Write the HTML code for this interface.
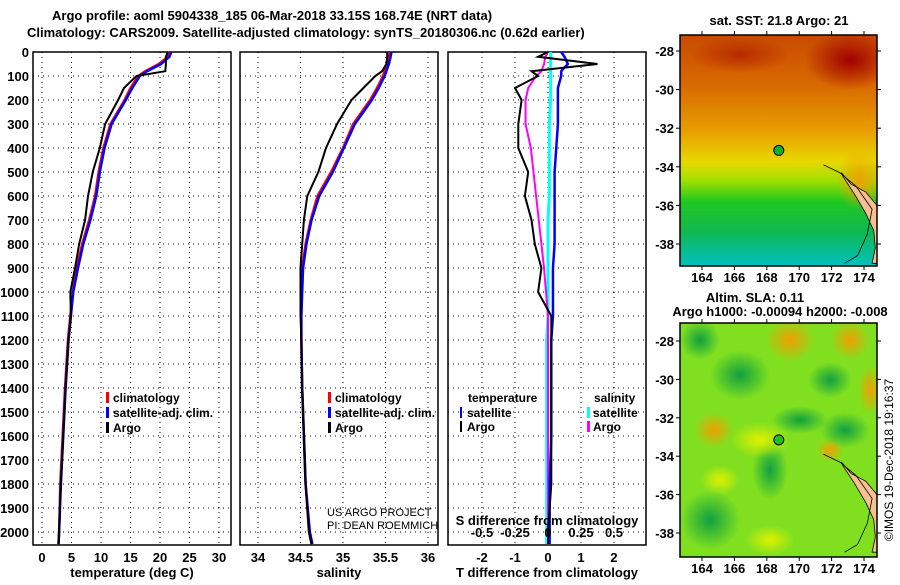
<!DOCTYPE html>
<html><head><meta charset="utf-8"><style>
body{margin:0;background:#fff;width:900px;height:580px;overflow:hidden}
svg text{font-family:"Liberation Sans",sans-serif}
.t{font-size:13px;font-weight:bold}
.tk{font-size:13px;font-weight:bold}
.lg{font-size:12px;font-weight:bold}
</style></head><body>
<svg id="c" width="900" height="580" xmlns="http://www.w3.org/2000/svg">
<defs>
<linearGradient id="sst" x1="0" y1="0" x2="0" y2="1">
<stop offset="0" stop-color="#c84a00"/><stop offset="0.22" stop-color="#d86a00"/><stop offset="0.42" stop-color="#e8a000"/>
<stop offset="0.55" stop-color="#e8d800"/><stop offset="0.63" stop-color="#a0e000"/><stop offset="0.72" stop-color="#20c820"/>
<stop offset="0.85" stop-color="#10b850"/><stop offset="1" stop-color="#00c0c0"/></linearGradient>
<radialGradient id="warm"><stop offset="0" stop-color="#f0a000"/><stop offset="1" stop-color="#f0a000" stop-opacity="0"/></radialGradient>
<radialGradient id="dk"><stop offset="0" stop-color="#a00000"/><stop offset="1" stop-color="#a00000" stop-opacity="0"/></radialGradient>
<radialGradient id="gr"><stop offset="0" stop-color="#10a040"/><stop offset="1" stop-color="#10a040" stop-opacity="0"/></radialGradient>
<radialGradient id="yl"><stop offset="0" stop-color="#e0f000"/><stop offset="1" stop-color="#e0f000" stop-opacity="0"/></radialGradient>
<clipPath id="clip1"><rect x="680" y="35" width="197" height="231"/></clipPath>
<clipPath id="clip2"><rect x="680" y="323" width="197" height="234"/></clipPath>
</defs>
</svg>
<script>
const depths=[0,20,50,80,100,150,200,300,400,500,600,700,800,900,1000,1100,1200,1400,1500,1600,1800,2000,2050];
const tempClim=[21.6,21.3,19.8,17.5,16.3,15.0,14.0,11.6,10.4,9.6,9.0,8.0,6.8,5.9,5.2,4.8,4.4,3.9,3.7,3.5,3.1,2.9,2.8];
const tempSat=[21.9,21.6,20.2,17.8,16.6,15.3,14.2,11.8,10.6,9.8,9.2,8.2,7.0,6.1,5.3,4.9,4.5,4.0,3.8,3.6,3.2,2.9,2.8];
const tempArgo=[21.3,21.0,21.0,20.9,16.0,13.9,12.9,10.7,9.8,8.6,7.8,7.3,6.3,5.6,4.8,4.9,4.5,4.0,3.8,3.6,3.2,2.9,2.8];
const salClim=[35.55,35.54,35.52,35.49,35.47,35.40,35.32,35.12,35.00,34.86,34.70,34.62,34.56,34.52,34.51,34.51,34.51,34.52,34.53,34.54,34.56,34.60,34.63];
const salSat=[35.57,35.56,35.54,35.51,35.49,35.42,35.34,35.14,35.01,34.88,34.72,34.63,34.57,34.53,34.52,34.51,34.51,34.52,34.53,34.54,34.56,34.61,34.64];
const salArgo=[35.52,35.52,35.51,35.46,35.38,35.24,35.10,34.93,34.80,34.71,34.58,34.54,34.52,34.50,34.50,34.50,34.51,34.52,34.53,34.54,34.56,34.60,34.63];
const tDiffArgo=[0.0,-0.3,1.5,-0.5,-0.3,-1.0,-0.8,-0.9,-0.9,-0.6,-0.7,-0.5,-0.4,-0.2,-0.3,0.1,0.1,0.1,0.1,0.1,0.1,0.0,0.0];
const tDiffSat=[0.4,0.5,0.6,0.4,0.4,0.3,0.3,0.3,0.25,0.2,0.2,0.2,0.2,0.15,0.15,0.15,0.1,0.1,0.1,0.1,0.05,0.05,0.05];
const sDiffArgo=[0.0,-0.02,-0.03,-0.05,-0.09,-0.15,-0.17,-0.17,-0.13,-0.11,-0.09,-0.07,-0.05,-0.03,-0.015,0.0,0.0,0.0,0.0,0.0,0.0,0.0,0.0];
const sDiffSat=[0.02,0.02,0.02,0.02,0.02,0.02,0.02,0.01,0.01,0.01,0.01,0.0,0.0,0.0,0.0,0.0,-0.01,-0.01,-0.01,-0.01,-0.01,-0.01,-0.01];
const depthTicks=[0,100,200,300,400,500,600,700,800,900,1000,1100,1200,1300,1400,1500,1600,1700,1800,1900,2000];
const tempTicks=[0,5,10,15,20,25,30];
const salTicks=[34,34.5,35,35.5,36];
const salTickLabels=["34","34.5","35","35.5","36"];
const tdTicks=[-2,-1,0,1,2];
const sdTicks=[-0.5,-0.25,0,0.25,0.5];
const sdTickLabels=["-0.5","-0.25","0","0.25","0.5"];
const latTicks=[-28,-30,-32,-34,-36,-38];
const lonTicks=[164,166,168,170,172,174];
const argoLon=168.74, argoLat=-33.15;

const NS="http://www.w3.org/2000/svg", svg=document.getElementById('c');
function el(tag,attrs,parent,txt){const e=document.createElementNS(NS,tag);for(const k in attrs)e.setAttribute(k,attrs[k]);if(txt!==undefined)e.textContent=txt;(parent||svg).appendChild(e);return e;}
const Y0=52,Y1=545; const yD=d=>Y0+(d/2054)*(Y1-Y0);
function lin(a,b,p,q){return v=>p+(v-a)/(b-a)*(q-p);}
const xT=lin(0,30,42,219), xS=lin(34,36,258,428), xTD=lin(-2,2,482,614), xSD=lin(-0.5,0.5,482,614);

function panel(x0,x1,name,xs,xticks,labels){
  const g=el('g',{},svg);
  
  
  depthTicks.forEach(d=>{const l=el('line',{x1:x0,x2:x1,y1:yD(d),y2:yD(d),stroke:'#000','stroke-dasharray':'1 4','stroke-width':1},g);
    });
  xticks.forEach((v,i)=>{const l=el('line',{x1:xs(v),x2:xs(v),y1:Y0,y2:Y1,stroke:'#000','stroke-dasharray':'1 4'},g);
    
    if(labels){const t=el('text',{x:xs(v),y:562,'text-anchor':'middle',class:'tk'},g,labels[i]);
    }});
  const r=el('rect',{x:x0,y:Y0,width:x1-x0,height:Y1-Y0,fill:'none',stroke:'#000','stroke-width':1.5},g);
  
  return g;
}
function line(g,xs,vals,color,w,name){
  const p=el('polyline',{points:vals.map((v,i)=>xs(v)+','+yD(depths[i])).join(' '),fill:'none',stroke:color,'stroke-width':w},g);
  
}
function txt(x,y,s,cls,anchor,parent,name,extra){const t=el('text',Object.assign({x:x,y:y,class:cls||'','text-anchor':anchor||'start'},extra||{}),parent,s);
  return t;}

txt(52,20,'Argo profile: aoml 5904338_185 06-Mar-2018 33.15S 168.74E (NRT data)','t','start',svg,'title-line-1');
txt(27,37,'Climatology: CARS2009. Satellite-adjusted climatology: synTS_20180306.nc (0.62d earlier)','t','start',svg,'title-line-2');
depthTicks.forEach(d=>{txt(29,yD(d)+5,String(d),'tk','end',svg,'depth-tick-label');});

let g=panel(33,231,'temperature-panel',xT,tempTicks,tempTicks.map(String));
line(g,xT,tempClim,'#f00',2.5,'temp-climatology-line');
line(g,xT,tempSat,'#00f',2.5,'temp-satellite-line');
line(g,xT,tempArgo,'#000',2,'temp-argo-line');
txt(132,577,'temperature (deg C)','tk','middle',svg,'temperature-axis-title');
[['climatology','#f00'],['satellite-adj. clim.','#00f'],['Argo','#000']].forEach((a,i)=>{
  const r=el('rect',{x:106,y:392+i*15,width:3,height:11,fill:a[1]},g);
  txt(113,402+i*15,a[0],'lg','start',g,'legend-entry');});

g=panel(240,438,'salinity-panel',xS,salTicks,salTickLabels);
line(g,xS,salClim,'#f00',2.5,'sal-climatology-line');
line(g,xS,salSat,'#00f',2.5,'sal-satellite-line');
line(g,xS,salArgo,'#000',2,'sal-argo-line');
txt(339,577,'salinity','tk','middle',svg,'salinity-axis-title');
[['climatology','#f00'],['satellite-adj. clim.','#00f'],['Argo','#000']].forEach((a,i)=>{
  const r=el('rect',{x:328,y:392+i*15,width:3,height:11,fill:a[1]},g);
  txt(335,402+i*15,a[0],'lg','start',g,'legend-entry');});
txt(327,516,'US ARGO PROJECT','','start',g,'project-credit',{'font-size':'11'});
txt(327,529,'PI: DEAN ROEMMICH','','start',g,'pi-credit',{'font-size':'11'});

g=panel(448,646,'difference-panel',xTD,tdTicks,tdTicks.map(String));
line(g,xSD,sDiffSat,'#0ff',3,'sal-diff-satellite-line');
line(g,xSD,sDiffArgo,'#f0f',2,'sal-diff-argo-line');
line(g,xTD,tDiffSat,'#00f',2.5,'temp-diff-satellite-line');
line(g,xTD,tDiffArgo,'#000',2,'temp-diff-argo-line');
sdTicks.forEach((v,i)=>txt(xSD(v),537,sdTickLabels[i],'tk','middle',g,'s-diff-tick-label'));
txt(547,525,'S difference from climatology','tk','middle',g,'s-diff-axis-title');
txt(547,577,'T difference from climatology','tk','middle',svg,'t-diff-axis-title');
txt(468,402,'temperature','lg','start',g,'legend-heading-temperature');
txt(594,402,'salinity','lg','start',g,'legend-heading-salinity');
[['satellite','#00f','#0ff'],['Argo','#000','#f0f']].forEach((a,i)=>{
  let r=el('rect',{x:460,y:407+i*14,width:2,height:11,fill:a[1]},g);
  txt(467,417+i*14,a[0],'lg','start',g,'legend-entry');
  r=el('rect',{x:587,y:407+i*14,width:3,height:11,fill:a[2]},g);
  txt(593,417+i*14,a[0],'lg','start',g,'legend-entry');});

function map(y0,y1,latA,latB,name,sst,clip){
  const x0=680,x1=877; const xl=lin(164,174,702,864), yl=lin(-28,-38,latA,latB);
  const g=el('g',{},svg);
  const inner=el('g',{'clip-path':'url(#'+clip+')'},g);
  if(sst){
    el('rect',{x:x0,y:y0,width:x1-x0,height:y1-y0,fill:'url(#sst)'},inner);
    el('ellipse',{cx:850,cy:60,rx:45,ry:30,fill:'url(#dk)'},inner);
    el('ellipse',{cx:740,cy:55,rx:50,ry:18,fill:'url(#dk)','opacity':0.5},inner);
    el('ellipse',{cx:860,cy:180,rx:25,ry:30,fill:'url(#warm)'},inner);
  } else {
    el('rect',{x:x0,y:y0,width:x1-x0,height:y1-y0,fill:'#80e020'},inner);
    [[790,340,25,22,'warm'],[714,430,20,18,'warm'],[850,340,20,20,'warm'],[870,390,12,25,'warm'],[830,450,14,12,'warm'],
     [740,375,30,25,'gr'],[700,340,20,20,'gr'],[830,380,22,18,'gr'],[845,430,25,18,'gr'],[770,470,18,30,'gr'],[800,420,28,14,'gr'],[710,520,30,30,'gr'],
     [760,440,30,18,'yl'],[720,480,20,15,'yl'],[770,540,25,15,'yl']].forEach(b=>el('ellipse',{cx:b[0],cy:b[1],rx:b[2],ry:b[3],fill:'url(#'+b[4]+')'},inner));
  }
  const land=[[172.6,-34.3],[173.2,-34.9],[174.1,-35.3],[174.8,-36.0],[175,-36.5],[175,-39],[174.5,-39],[174.7,-38.2],[174.6,-37.3],[174.1,-36.4],[173.4,-35.4],[172.7,-34.5]];
  el('polygon',{points:land.map(p=>xl(p[0])+','+yl(p[1])).join(' '),fill:'#f8c090',stroke:'#000','stroke-width':0.8},inner);
  const shelf=[[171.5,-33.9],[172.5,-34.3],[173.5,-35.0],[174.5,-36.2],[174.2,-37.5],[173.6,-38.6],[172.8,-39.0]];
  el('polyline',{points:shelf.map(p=>xl(p[0])+','+yl(p[1])).join(' '),fill:'none',stroke:'#000','stroke-width':0.8},inner);
  const c=el('circle',{cx:xl(argoLon),cy:yl(argoLat),r:5,fill:sst?'#10b030':'#20c020',stroke:'#000'},g);
  
  const fr=el('rect',{x:x0,y:y0,width:x1-x0,height:y1-y0,fill:'none',stroke:'#000','stroke-width':1.5},g);
  
  latTicks.forEach(v=>{el('line',{x1:x0-4,x2:x0,y1:yl(v),y2:yl(v),stroke:'#000'},g);el('line',{x1:x1,x2:x1+4,y1:yl(v),y2:yl(v),stroke:'#000'},g);
    txt(x0-6,yl(v)+5,String(v),'tk','end',g,'lat-tick-label');});
  lonTicks.forEach(v=>{el('line',{x1:xl(v),x2:xl(v),y1:y0-4,y2:y0,stroke:'#000'},g);el('line',{x1:xl(v),x2:xl(v),y1:y1,y2:y1+4,stroke:'#000'},g);
    txt(xl(v),y1+16,String(v),'tk','middle',g,'lon-tick-label');});
}
map(35,266,51,244,'sst-map',true,'clip1');
map(323,557,341,533,'sla-map',false,'clip2');
txt(779,25,'sat. SST: 21.8 Argo: 21','tk','middle',svg,'sst-map-title');
txt(755,302,'Altim. SLA: 0.11','tk','middle',svg,'sla-map-title');
txt(780,316,'Argo h1000: -0.00094 h2000: -0.008','tk','middle',svg,'sla-map-subtitle');
txt(0,0,'©IMOS 19-Dec-2018 19:16:37','','middle',svg,'imos-timestamp',{'font-size':'12',transform:'translate(893,460) rotate(-90)'});
</script>
</body></html>
